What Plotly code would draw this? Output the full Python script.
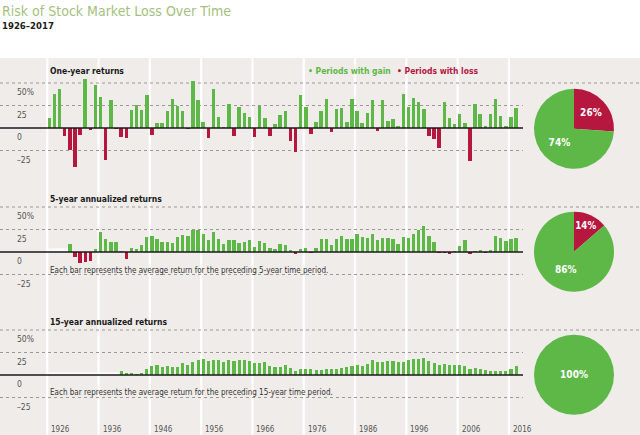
import plotly.graph_objects as go

# ---------------- data ----------------
one_year_years = list(range(1926, 2018))
one_year = [11.6, 37.5, 43.6, -8.4, -24.9, -43.3, -8.2, 54.0, -1.4, 47.7,
            33.9, -35.0, 31.1, -0.4, -9.8, -11.6, 20.3, 25.9, 19.8, 36.4,
            -8.1, 5.7, 5.5, 18.8, 31.7, 24.0, 18.4, -1.0, 52.6, 31.6,
            6.6, -10.8, 43.4, 12.0, 0.5, 26.9, -8.7, 22.8, 16.5, 12.5,
            -10.1, 24.0, 11.1, -8.5, 4.0, 14.3, 19.0, -14.7, -26.5, 37.2,
            23.8, -7.2, 6.6, 18.4, 32.4, -4.9, 21.4, 22.5, 6.3, 32.2,
            18.5, 5.2, 16.8, 31.5, -3.2, 30.6, 7.7, 10.0, 1.3, 37.4,
            23.1, 33.4, 28.6, 21.0, -9.1, -11.9, -22.1, 28.7, 10.9, 4.9,
            15.8, 5.5, -37.0, 26.5, 15.1, 2.1, 16.0, 32.4, 13.7, 1.4,
            12.0, 21.8]

five_year_years = list(range(1930, 2018))
five_year = [8.7, -5.1, -12.5, -11.2, -9.9, 3.1, 22.5, 14.3, 10.7, 10.9,
             0.5, -7.5, 4.6, 3.8, 7.7, 17.0, 17.9, 14.8, 10.9, 10.7,
             9.9, 16.7, 19.4, 17.9, 23.9, 23.9, 20.2, 13.6, 22.3, 15.0,
             8.9, 12.8, 13.3, 9.9, 10.7, 13.3, 5.7, 12.4, 10.2, 5.0,
             3.3, 8.4, 7.5, 2.0, -2.4, 3.2, 4.8, -0.2, 4.3, 14.7,
             13.9, 8.1, 14.0, 17.3, 14.8, 14.7, 19.9, 16.5, 15.4, 20.4,
             13.1, 15.4, 15.9, 14.5, 8.7, 16.6, 15.2, 20.2, 24.1, 28.6,
             18.3, 10.7, -0.6, -0.6, -2.3, 0.5, 6.2, 12.8, -2.2, 0.4,
             2.3, -0.2, 1.7, 18.0, 15.5, 12.6, 14.7, 15.8]

fifteen_year_years = list(range(1940, 2018))
fifteen_year = [4.0, 2.4, 1.5, 0.7, 2.5, 6.6, 10.1, 11.2, 8.4, 9.7,
                8.9, 8.4, 12.8, 10.7, 13.9, 16.8, 18.2, 15.9, 16.9, 16.4,
                14.0, 16.5, 15.4, 16.6, 16.4, 15.2, 12.8, 13.1, 14.0, 10.2,
                8.4, 8.9, 11.1, 7.3, 4.3, 6.5, 6.3, 6.4, 5.4, 5.6,
                6.7, 7.1, 7.0, 7.7, 8.7, 10.5, 10.8, 9.9, 12.2, 16.6,
                13.9, 14.3, 15.5, 15.7, 14.5, 14.8, 16.8, 17.5, 17.9, 18.9,
                16.0, 13.7, 11.5, 12.2, 10.9, 11.5, 10.6, 10.5, 6.5, 8.0,
                6.8, 5.5, 4.5, 4.7, 4.2, 5.0, 6.7, 9.9]

decade_ticks = list(range(1926, 2017, 10))
y_ticks = [50, 25, 0, -25]
y_tick_text = ["50%", "25", "0", "\u201325"]
panel_titles = ["One-year returns", "5-year annualized returns", "15-year annualized returns"]
notes = [None,
         "Each bar represents the average return for the preceding 5-year time period.",
         "Each bar represents the average return for the preceding 15-year time period."]

# ---------------- style ----------------
W, H = 640, 435
GREEN = "#5db848"
RED = "#b5173f"
BG = "#f0ece9"
FONT = "DejaVu Sans Condensed, Roboto, sans-serif"
PX_PER_YEAR = 5.13
X0_PX = 49.3           # pixel centre of 1926 bar
PX_PER_PCT = 0.9
zero_px = [128, 252, 375]
axis_end_px = 523
gray_top_px = 58

def py(px):  # pixel from top -> paper y
    return 1 - px / H

x_range = [1926 - X0_PX / PX_PER_YEAR, 1926 + (W - X0_PX) / PX_PER_YEAR]

fig = go.Figure()

series = [(one_year_years, one_year, "y", 0.68),
          (five_year_years, five_year, "y2", 0.66),
          (fifteen_year_years, fifteen_year, "y3", 0.6)]

for yrs, vals, yax, wd in series:
    fig.add_trace(go.Bar(
        x=yrs, y=vals, yaxis=yax, xaxis="x", width=wd,
        marker=dict(color=[GREEN if v >= 0 else RED for v in vals], line=dict(width=0)),
        showlegend=False, hoverinfo="x+y"))

# pies
pie_centers = [128.7, 251.7, 374.7]
pie_r = 40
for (yrs, vals, _, _), cy in zip(series, pie_centers):
    loss = sum(1 for v in vals if v < 0)
    gain = len(vals) - loss
    fig.add_trace(go.Pie(
        values=[loss, gain], labels=["Periods with loss", "Periods with gain"],
        marker=dict(colors=[RED, GREEN], line=dict(width=0)),
        sort=False, direction="clockwise", rotation=0,
        texttemplate="<b>%{percent:.0%}</b>", textposition="inside",
        insidetextorientation="horizontal",
        insidetextfont=dict(color="white", size=10, family=FONT),
        domain=dict(x=[(574 - pie_r) / W, (574 + pie_r) / W],
                    y=[py(cy + pie_r), py(cy - pie_r)]),
        showlegend=False, hoverinfo="label+percent"))

shapes = []
shapes.append(dict(type="rect", xref="paper", yref="paper", x0=0, x1=1, y0=0, y1=py(gray_top_px),
                   fillcolor=BG, line=dict(width=0), layer="below"))
for d in decade_ticks:
    shapes.append(dict(type="line", xref="x", yref="paper", x0=d - 0.4, x1=d - 0.4,
                       y0=0, y1=py(gray_top_px), line=dict(color="white", width=2.2), layer="below"))
yaxes = ["y", "y2", "y3"]
for i, yax in enumerate(yaxes):
    for v in (50, 25, -25):
        shapes.append(dict(type="line", xref="paper", yref=yax, x0=0,
                           x1=1 if v == 50 else axis_end_px / W, y0=v, y1=v,
                           line=dict(color="#9c9894", width=1, dash="dot"), layer="below"))
shapes.append(dict(type="rect", xref="x", yref="y2", x0=1925.6, x1=1929.6, y0=0.5, y1=4,
                   fillcolor="rgba(255,255,255,0.8)", line=dict(width=0), layer="below"))
shapes.append(dict(type="rect", xref="x", yref="y3", x0=1925.6, x1=1939.6, y0=0.5, y1=3,
                   fillcolor="rgba(255,255,255,0.8)", line=dict(width=0), layer="below"))
for yax in yaxes:
    shapes.append(dict(type="line", xref="paper", yref=yax, x0=0, x1=axis_end_px / W, y0=0, y1=0,
                       line=dict(color="#1a1a1a", width=1.6), layer="above"))

ann = []
def add_text(text, x_px, y_px, size, color, xanchor="left", xref="paper", yref="paper", y=None, **kw):
    ann.append(dict(text=text, xref=xref, yref=yref,
                    x=x_px / W if xref == "paper" else x_px,
                    y=py(y_px) if y is None else y,
                    xanchor=xanchor, yanchor="middle", showarrow=False, borderpad=0,
                    font=dict(family=FONT, size=size, color=color), **kw))

add_text("Risk of Stock Market Loss Over Time", 1, 11, 14, "#a6bf7e")
add_text("<b>1926\u20132017</b>", 1, 25, 9.5, "#1a1a1a")
title_px = [71, 199, 322]
for t, tp in zip(panel_titles, title_px):
    add_text("<b>" + t + "</b>", 49, tp, 8.5, "#1a1a1a")
add_text("<b>\u2022 Periods with gain</b>", 392, 71, 8.5, GREEN, xanchor="right")
add_text("<b>\u2022 Periods with loss</b>", 396, 71, 8.5, RED)
for yax in yaxes:
    for v, tt in zip(y_ticks, y_tick_text):
        add_text(tt, 16, 0, 8.5, "#555555", yref=yax, y=v, yshift=-9)
note_px = [None, 270, 392]
for n, npx in zip(notes, note_px):
    if n:
        add_text(n, 49, npx, 8, "#333333")
for d in decade_ticks:
    add_text(str(d), d - 0.4, 429, 8, "#555555", xref="x", xshift=3)

def yr(z):
    return [(z - H) / PX_PER_PCT, z / PX_PER_PCT]

fig.update_layout(
    width=W, height=H, autosize=False,
    margin=dict(l=0, r=0, t=0, b=0, pad=0),
    paper_bgcolor="white", plot_bgcolor="rgba(0,0,0,0)",
    bargap=0, barmode="overlay",
    xaxis=dict(domain=[0, 1], range=x_range, visible=False, fixedrange=True),
    yaxis=dict(domain=[0, 1], range=yr(zero_px[0]), visible=False, anchor="x", fixedrange=True),
    yaxis2=dict(domain=[0, 1], range=yr(zero_px[1]), visible=False, anchor="x", overlaying="y", fixedrange=True),
    yaxis3=dict(domain=[0, 1], range=yr(zero_px[2]), visible=False, anchor="x", overlaying="y", fixedrange=True),
    shapes=shapes, annotations=ann,
    font=dict(family=FONT),
)

fig.write_html("out.html", config={"displayModeBar": False},
               post_script="document.body.style.margin='0';document.body.style.overflow='hidden';")
